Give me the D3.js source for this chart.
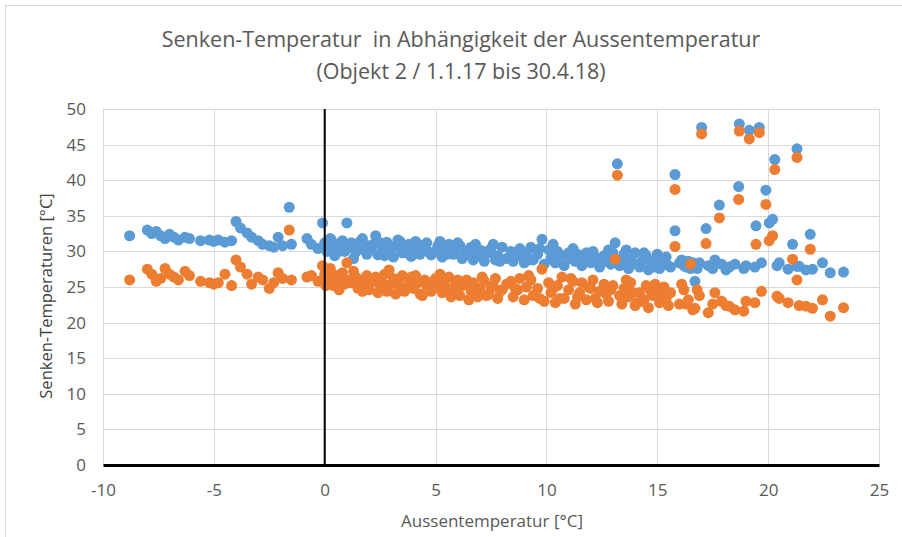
<!DOCTYPE html>
<html>
<head>
<meta charset="utf-8">
<script src="https://d3js.org/d3.v7.min.js"></script>
<style>
	body { margin: 0; background: #ffffff; }
	text { font-family: "Open Sans", sans-serif; fill: #595959; }
</style>
</head>
<body>
<script>
/*
Senken-Temperatur in Abhaengigkeit der Aussentemperatur (Objekt 2).
*/

// aussentemperatur [°C] (x), gleiche tage fuer beide reihen
var aussenTemp = [
	// unter 0
	-8.8, -8.0, -7.8, -7.6, -7.4, -7.2, -7.0, -6.8, -6.6, -6.3, -6.1, -5.6, -5.2, -5.0, -4.8, -4.5, -4.2,
	-4.0, -3.8, -3.5, -3.3, -3.0, -2.8, -2.5, -2.3, -2.1, -1.9, -1.6, -1.5, -0.8, -0.6, -0.3, -0.1,
	// 0 bis 8
	0.0, 0.1, 0.2, 0.3, 0.4, 0.5, 0.6, 0.7, 0.8, 0.9, 1.0, 1.1, 1.2, 1.4, 1.5, 1.6, 1.8, 1.9, 2.0, 2.2,
	2.3, 2.4, 2.6, 2.7, 2.8, 3.0, 3.1, 3.2, 3.4, 3.5, 3.6, 3.8, 3.9, 4.0, 4.2, 4.3, 4.5, 4.6, 4.8, 5.0,
	5.1, 5.3, 5.4, 5.6, 5.8, 5.9, 6.1, 6.2, 6.4, 6.6, 6.7, 6.9, 7.0, 7.2, 7.4, 7.5, 7.7, 7.8, 8.0, 8.2,
	0.05, 0.25, 0.45, 0.65, 0.85, 1.3, 1.7, 2.1, 2.5, 2.9, 3.3, 3.7, 4.1, 4.4, 4.7, 5.2, 5.5, 5.7, 6.0, 6.3,
	6.5, 6.8, 7.1, 7.3, 7.6, 7.9,
	// 8 bis 16
	8.4, 8.5, 8.7, 8.8, 9.0, 9.1, 9.3, 9.4, 9.6, 9.8, 9.9, 10.1, 10.2, 10.4, 10.5, 10.7, 10.8, 11.0, 11.2, 11.3,
	11.5, 11.6, 11.8, 12.0, 12.1, 12.3, 12.4, 12.6, 12.8, 12.9, 13.1, 13.2, 13.4, 13.5, 13.7, 13.8, 14.0, 14.2, 14.3, 14.5,
	14.6, 14.8, 15.0, 15.1, 15.3, 15.4, 15.6, 15.8, 15.8, 16.0,
	8.6, 9.2, 9.7, 10.3, 10.6, 11.1, 11.4, 11.9, 12.2, 12.7, 13.0, 13.3, 13.6, 13.9, 14.1, 14.4, 14.7, 14.9, 15.2, 15.5,
	// ueber 16
	16.1, 16.2, 16.3, 16.4, 16.5, 16.6, 16.7, 16.8, 16.9, 17.0, 17.2, 17.3, 17.5, 17.6, 17.8, 17.9, 18.1, 18.25, 18.5, 18.7,
	18.67, 18.9, 19.0, 19.15, 19.4, 19.45, 19.6, 19.7, 19.9, 20.05, 20.2, 20.3, 20.4, 20.5, 20.9, 21.1, 21.3, 21.3, 21.4, 21.7,
	21.9, 22.0, 22.45, 22.8, 23.4
];

// erste reihe (blau)
var senkeBlau = [
	32.2, 33.0, 32.5, 32.8, 32.2, 31.8, 32.4, 32.0, 31.6, 32.0, 31.8, 31.5, 31.6, 31.4, 31.6, 31.3, 31.5,
	34.2, 33.3, 32.6, 32.0, 31.5, 31.0, 30.8, 30.6, 32.0, 30.8, 36.2, 31.0, 31.8, 31.0, 30.4, 34.0,
	31.2, 30.0, 30.8, 31.6, 30.3, 29.8, 31.0, 30.4, 31.5, 30.0, 34.0, 30.6, 31.2, 29.9, 30.5, 31.4, 30.2, 29.6, 30.8, 31.0,
	32.2, 29.5, 30.6, 29.4, 31.3, 30.0, 29.2, 30.8, 31.4, 29.8, 30.4, 31.0, 29.3, 30.2, 30.9, 29.6, 30.4, 31.2, 29.5, 30.0,
	30.8, 29.2, 30.3, 31.0, 29.6, 30.2, 30.8, 29.0, 29.8, 30.6, 28.8, 29.5, 30.2, 28.6, 29.8, 30.4, 28.8, 29.4, 30.6, 29.0,
	30.6, 31.8, 29.4, 30.0, 30.8, 29.0, 31.8, 30.2, 31.2, 29.8, 31.6, 29.8, 31.4, 30.8, 29.9, 31.4, 29.6, 30.0, 31.2, 29.4,
	30.2, 31.0, 29.2, 30.0, 31.0, 28.6,
	30.0, 28.6, 29.4, 30.4, 28.4, 29.8, 30.6, 28.8, 29.6, 31.7, 28.2, 30.2, 29.0, 28.4, 30.0, 29.4, 28.0, 29.8, 30.4, 28.6,
	29.2, 28.0, 29.8, 28.4, 30.0, 28.8, 27.8, 29.4, 30.2, 28.2, 31.2, 42.3, 28.6, 29.6, 27.6, 28.8, 29.8, 27.8, 28.6, 29.4,
	27.4, 28.2, 29.6, 27.6, 28.4, 29.2, 27.8, 40.8, 32.9, 28.4,
	29.8, 28.8, 30.4, 31.0, 28.8, 29.0, 29.6, 28.6, 29.2, 28.6, 29.8, 28.0, 30.2, 28.4, 28.2, 29.8, 28.6, 27.8, 28.8, 28.0,
	28.8, 28.0, 27.8, 28.6, 27.6, 28.4, 25.8, 27.6, 28.4, 47.4, 33.2, 28.0, 27.6, 28.8, 36.5, 28.2, 27.4, 27.8, 28.2, 47.9,
	39.1, 27.6, 28.0, 47.0, 27.8, 33.6, 47.4, 28.4, 38.6, 34.0, 34.5, 42.9, 28.0, 28.4, 27.5, 31.0, 44.4, 27.9, 27.9, 27.4,
	32.4, 27.5, 28.4, 27.0, 27.1
];

// zweite reihe (orange)
var senkeOrange = [
	26.0, 27.5, 26.8, 25.8, 26.2, 27.6, 26.8, 26.4, 26.0, 27.2, 26.6, 25.8, 25.6, 25.4, 25.6, 26.8, 25.2,
	28.8, 27.8, 26.8, 25.4, 26.4, 26.0, 24.8, 25.6, 27.0, 26.2, 33.0, 26.0, 26.4, 26.6, 25.8, 28.0,
	26.8, 25.6, 27.2, 26.0, 25.2, 26.6, 25.8, 26.2, 27.0, 25.4, 28.4, 26.0, 25.6, 26.4, 24.8, 26.0, 25.2, 26.6, 24.6, 25.8,
	26.4, 24.2, 25.6, 26.8, 24.4, 25.4, 26.2, 24.0, 25.0, 26.6, 24.4, 25.8, 26.4, 24.8, 25.6, 24.0, 26.0, 25.2, 24.4, 26.2,
	25.0, 24.2, 25.8, 26.4, 24.6, 25.4, 23.8, 25.2, 26.0, 24.4, 25.6, 23.6, 24.8, 25.8, 24.0, 25.0, 26.2, 23.4, 24.6, 25.4,
	25.2, 27.6, 26.4, 24.6, 25.8, 27.2, 24.4, 26.0, 25.2, 27.4, 25.8, 24.8, 26.6, 23.8, 25.6, 26.8, 24.8, 23.6, 26.0, 25.4,
	23.2, 24.8, 26.4, 23.8, 25.2, 24.4,
	25.8, 23.6, 24.6, 26.2, 23.2, 25.0, 26.0, 23.8, 24.8, 27.5, 23.0, 25.6, 24.2, 22.8, 25.2, 26.4, 23.4, 24.6, 25.8, 22.6,
	24.2, 25.6, 23.2, 24.8, 26.0, 22.8, 24.4, 25.4, 23.0, 24.6, 28.9, 40.7, 22.6, 24.8, 23.6, 25.6, 22.4, 24.2, 23.0, 25.2,
	22.1, 23.8, 24.6, 22.8, 25.0, 23.4, 24.2, 38.7, 30.7, 22.6,
	24.8, 26.6, 23.4, 24.8, 23.4, 26.2, 23.6, 25.0, 23.4, 24.0, 25.2, 23.8, 26.0, 24.2, 22.8, 23.2, 24.4, 25.4, 23.6, 22.4,
	25.4, 24.6, 22.6, 23.2, 28.2, 21.8, 22.0, 24.6, 23.8, 46.5, 31.1, 21.4, 22.6, 24.2, 34.7, 23.0, 22.4, 22.3, 21.8, 46.9,
	37.3, 21.6, 23.0, 45.8, 22.8, 31.0, 46.7, 24.4, 36.6, 31.5, 32.2, 41.5, 23.7, 23.4, 22.8, 28.9, 43.2, 26.0, 22.4, 22.3,
	30.3, 22.0, 23.2, 20.9, 22.1
];

// achsen ticks
var xTicks = [-10, -5, 0, 5, 10, 15, 20, 25];
var yTicks = [0, 5, 10, 15, 20, 25, 30, 35, 40, 45, 50];

window.onload = function() {
	drawChart();
};

function drawChart() {

	// size variables
	var w = 902,
	    h = 537,
	    left = 103,
	    right = 879,
	    top = 109,
	    bottom = 465,
	    r = 5.5;

	var svg = d3.select("body")
	            .append("svg")
	             .attr("width", w)
	             .attr("height", h);

	// outer frame of the excel chart
	svg.append("rect")
	   .attr("x", 5.5)
	   .attr("y", 5.5)
	   .attr("width", w + 10)
	   .attr("height", h + 10)
	   .attr("fill", "#ffffff")
	   .attr("stroke", "#d9d9d9");

	// scales
	var xScale = d3.scaleLinear()
	               .domain([-10, 25])
	               .range([left, right]);

	var yScale = d3.scaleLinear()
	               .domain([0, 50])
	               .range([bottom, top]);

	// grid lines
	svg.append("g")
	   .selectAll("line")
	   .data(yTicks)
	   .enter()
	   .append("line")
	   .attr("x1", left)
	   .attr("x2", right)
	   .attr("y1", function(d) { return Math.round(yScale(d)) + 0.5; })
	   .attr("y2", function(d) { return Math.round(yScale(d)) + 0.5; })
	   .attr("stroke", "#d9d9d9");

	svg.append("g")
	   .selectAll("line")
	   .data(xTicks)
	   .enter()
	   .append("line")
	   .attr("x1", function(d) { return Math.round(xScale(d)) + 0.5; })
	   .attr("x2", function(d) { return Math.round(xScale(d)) + 0.5; })
	   .attr("y1", top)
	   .attr("y2", bottom)
	   .attr("stroke", "#d9d9d9");

	// points, blue first so orange lies on top
	var series = [[senkeBlau, "#5b9bd5"], [senkeOrange, "#ed7d31"]];

	series.forEach(function(s) {
		svg.append("g")
		   .selectAll("circle")
		   .data(s[0])
		   .enter()
		   .append("circle")
		   .attr("cx", function(d, i) { return xScale(aussenTemp[i]); })
		   .attr("cy", function(d) { return yScale(d); })
		   .attr("r", r)
		   .attr("fill", s[1]);
	});

	// excel writes a plain hyphen as minus
	var fmt = function(d) { return String(d); };

	// x-axis (at y = 0) and y-axis (at x = 0) as black lines
	var xAxis = d3.axisBottom(xScale)
	              .tickValues(xTicks)
	              .tickFormat(fmt)
	              .tickSize(0)
	              .tickPadding(19);

	var gx = svg.append("g")
	            .attr("transform", "translate(0," + yScale(0) + ")")
	            .call(xAxis);
	gx.select(".domain")
	  .attr("stroke", "#000000")
	  .attr("stroke-width", 3);
	gx.selectAll("text")
	  .attr("font-size", 17)
	  .attr("font-family", null)
	  .attr("fill", null);

	svg.append("line")
	   .attr("x1", xScale(0))
	   .attr("x2", xScale(0))
	   .attr("y1", top)
	   .attr("y2", bottom)
	   .attr("stroke", "#000000")
	   .attr("stroke-width", 2);

	var yAxis = d3.axisLeft(yScale)
	              .tickValues(yTicks)
	              .tickFormat(fmt)
	              .tickSize(0)
	              .tickPadding(17);

	var gy = svg.append("g")
	            .attr("transform", "translate(" + left + ",0)")
	            .call(yAxis);
	gy.select(".domain").remove();
	gy.selectAll("text")
	  .attr("font-size", 17)
	  .attr("font-family", null)
	  .attr("fill", null);

	// title
	svg.append("text")
	   .attr("x", 461)
	   .attr("y", 47)
	   .attr("text-anchor", "middle")
	   .attr("font-size", 21.5)
	   .style("white-space", "pre")
	   .text("Senken-Temperatur  in Abhängigkeit der Aussentemperatur");

	svg.append("text")
	   .attr("x", 461)
	   .attr("y", 79)
	   .attr("text-anchor", "middle")
	   .attr("font-size", 21.5)
	   .text("(Objekt 2 / 1.1.17 bis 30.4.18)");

	// axis labels
	svg.append("text")
	   .attr("x", 492)
	   .attr("y", 527)
	   .attr("text-anchor", "middle")
	   .attr("font-size", 17)
	   .text("Aussentemperatur [°C]");

	svg.append("text")
	   .attr("transform", "translate(52,296) rotate(-90)")
	   .attr("text-anchor", "middle")
	   .attr("font-size", 16.5)
	   .style("fill", "#404040")
	   .text("Senken-Temperaturen [°C]");
}
</script>
</body>
</html>
